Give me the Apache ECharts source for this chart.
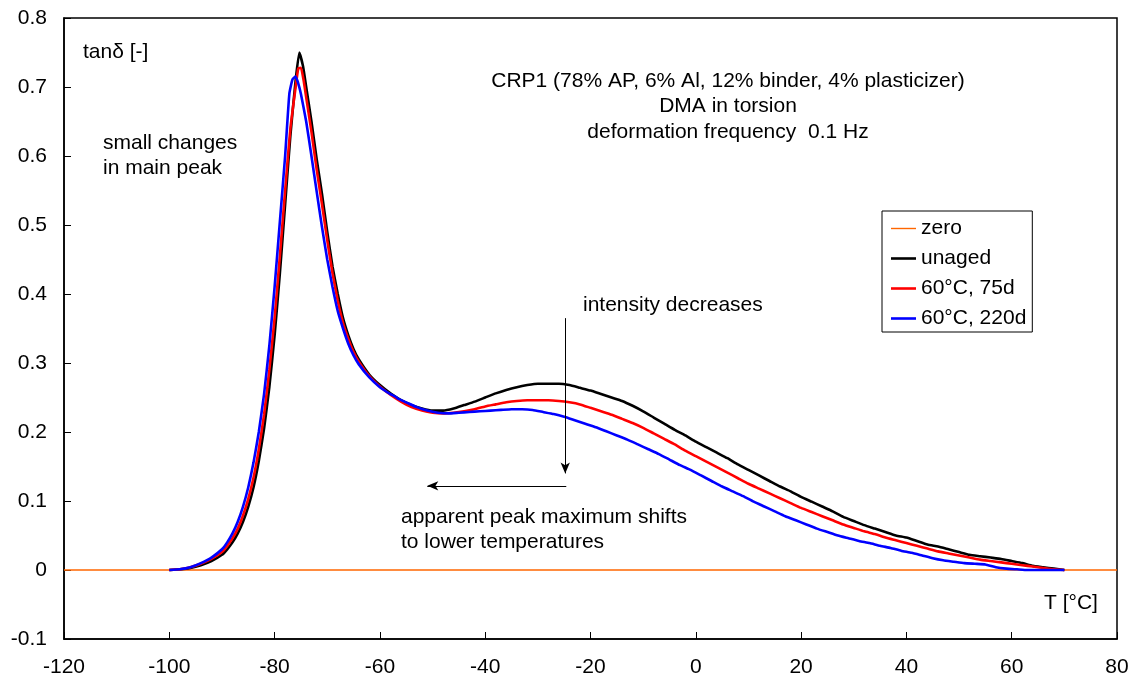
<!DOCTYPE html>
<html>
<head>
<meta charset="utf-8">
<script src="https://cdn.jsdelivr.net/npm/echarts@6/dist/echarts.min.js"></script>
<style>html,body{margin:0;padding:0;background:#fff}#c{width:1136px;height:682px}</style>
</head>
<body>
<div id="c"></div>
<script>
// Temperature T [°C] and tanδ values
const seriesNames = ['zero', 'unaged', '60°C, 75d', '60°C, 220d'];
const xTicks = [-120, -100, -80, -60, -40, -20, 0, 20, 40, 60, 80];
const yTicks = [-0.1, 0, 0.1, 0.2, 0.3, 0.4, 0.5, 0.6, 0.7, 0.8];
const yTickLabels = ['-0.1', '0', '0.1', '0.2', '0.3', '0.4', '0.5', '0.6', '0.7', '0.8'];

const zeroLine = [[-120, 0], [80, 0]];

const unaged = [
  [-100,0],[-98,0.001],[-96,0.003],[-94,0.007],[-92,0.013],[-90,0.022],[-89,0.03],[-88,0.04],
  [-87,0.053],[-86,0.07],[-85,0.092],[-84,0.12],[-83,0.158],[-82,0.205],[-81,0.265],[-80,0.34],
  [-79,0.43],[-78,0.53],[-77,0.63],[-76,0.71],[-75.3,0.75],[-74.6,0.73],[-74,0.70],[-73,0.65],
  [-72,0.595],[-71,0.545],[-70,0.49],[-69,0.44],[-68,0.40],[-67,0.365],[-66,0.34],[-65,0.32],
  [-64,0.305],[-62,0.283],[-60,0.268],[-58,0.256],[-56,0.246],[-54,0.239],[-52,0.234],[-50,0.231],
  [-48,0.231],[-46,0.234],[-44,0.239],[-42,0.244],[-40,0.25],[-38,0.256],[-36,0.261],[-34,0.265],
  [-32,0.268],[-30,0.27],[-28,0.27],[-26,0.27],[-24,0.268],[-22,0.264],[-20,0.26],[-18,0.255],
  [-16,0.25],[-14,0.245],[-12,0.238],[-10,0.23],[-8,0.221],[-6,0.212],[-4,0.203],[-2,0.195],
  [0,0.186],[2,0.178],[4,0.17],[6,0.162],[8,0.153],[10,0.145],[12,0.137],[14,0.129],[16,0.121],
  [18,0.114],[20,0.106],[22,0.099],[24,0.092],[26,0.085],[28,0.077],[30,0.071],[32,0.065],
  [34,0.06],[36,0.055],[38,0.05],[40,0.047],[42,0.042],[44,0.037],[46,0.034],[48,0.03],[50,0.026],
  [52,0.022],[54,0.02],[56,0.018],[58,0.016],[60,0.013],[62,0.01],[64,0.006],[66,0.004],[68,0.002],[70,0]
];

const aged75 = [
  [-100,0],[-98,0.001],[-96,0.004],[-94,0.009],[-92,0.016],[-90,0.026],[-89,0.035],[-88,0.046],
  [-87,0.06],[-86,0.079],[-85,0.103],[-84,0.134],[-83,0.175],[-82,0.225],[-81,0.29],[-80,0.365],
  [-79,0.455],[-78,0.55],[-77,0.64],[-76,0.70],[-75.5,0.727],[-75,0.728],[-74.5,0.71],[-74,0.685],
  [-73,0.635],[-72,0.58],[-71,0.53],[-70,0.478],[-69,0.43],[-68,0.39],[-67,0.358],[-66,0.335],
  [-65,0.316],[-64,0.302],[-62,0.281],[-60,0.266],[-58,0.254],[-56,0.244],[-54,0.236],[-52,0.231],
  [-50,0.228],[-48,0.227],[-46,0.228],[-44,0.23],[-42,0.233],[-40,0.237],[-38,0.24],[-36,0.243],
  [-34,0.245],[-32,0.246],[-30,0.246],[-28,0.246],[-26,0.245],[-24,0.243],[-22,0.24],[-20,0.235],
  [-18,0.23],[-16,0.225],[-14,0.219],[-12,0.213],[-10,0.206],[-8,0.198],[-6,0.19],[-4,0.182],
  [-2,0.173],[0,0.165],[2,0.157],[4,0.149],[6,0.141],[8,0.133],[10,0.125],[12,0.118],[14,0.111],
  [16,0.104],[18,0.097],[20,0.09],[22,0.084],[24,0.078],[26,0.072],[28,0.066],[30,0.061],[32,0.056],
  [34,0.052],[36,0.047],[38,0.043],[40,0.039],[42,0.035],[44,0.031],[46,0.027],[48,0.024],[50,0.021],
  [52,0.018],[54,0.015],[56,0.013],[58,0.011],[60,0.009],[62,0.007],[64,0.005],[66,0.003],[68,0.001],[70,0]
];

const aged220 = [
  [-100,0],[-98,0.001],[-96,0.004],[-94,0.01],[-92,0.018],[-90,0.03],[-89,0.04],[-88,0.053],
  [-87,0.07],[-86,0.092],[-85,0.12],[-84,0.156],[-83,0.2],[-82,0.255],[-81,0.325],[-80,0.41],
  [-79,0.505],[-78,0.6],[-77.2,0.69],[-76.6,0.711],[-76,0.715],[-75.5,0.705],[-75,0.69],[-74,0.65],
  [-73,0.60],[-72,0.548],[-71,0.497],[-70,0.45],[-69,0.41],[-68,0.375],[-67,0.35],[-66,0.328],
  [-65,0.311],[-64,0.298],[-62,0.279],[-60,0.265],[-58,0.255],[-57.2,0.252],[-56.5,0.248],[-55,0.243],
  [-53,0.236],[-51,0.231],[-49,0.228],[-47,0.227],[-45,0.228],[-43,0.229],[-41,0.23],[-39,0.231],
  [-37,0.232],[-35,0.233],[-33,0.233],[-31,0.232],[-29,0.229],[-27,0.226],[-25,0.222],[-23,0.217],
  [-21,0.212],[-19,0.207],[-17,0.201],[-15,0.195],[-13,0.189],[-11,0.182],[-9,0.175],[-7,0.168],
  [-5,0.16],[-3,0.152],[-1,0.145],[1,0.137],[3,0.129],[5,0.121],[7,0.114],[9,0.107],[11,0.099],
  [13,0.092],[15,0.085],[17,0.078],[19,0.072],[21,0.066],[23,0.06],[25,0.055],[27,0.05],[29,0.046],
  [31,0.042],[33,0.039],[35,0.035],[37,0.032],[39,0.028],[41,0.025],[43,0.021],[45,0.017],[47,0.014],
  [49,0.012],[51,0.01],[53,0.009],[55,0.008],[57,0.004],[59,0.002],[61,0.001],[63,0],[70,0]
];

// annotation arrows (data coordinates)
const arrowDown = [[-24.8, 0.365], [-24.8, 0.14]];
const arrowLeft = [[-24.6, 0.122], [-51, 0.122]];

const FONT = '"Liberation Sans", Arial, sans-serif';
const FS = 21;
const chart = echarts.init(document.getElementById('c'));

function txt(x, y, text, align) {
  return {
    type: 'text', x: x, y: y, z: 100,
    style: { text: text, fill: '#000', fontSize: FS, fontFamily: FONT,
             textAlign: align || 'left', textVerticalAlign: 'middle' }
  };
}

function lineSeries(name, data, color, width) {
  return {
    name: name, type: 'line', data: data, symbol: 'none', showSymbol: false,
    smooth: 0.15, animation: false,
    lineStyle: { color: color, width: width }, itemStyle: { color: color }
  };
}

const arrowStyle = { color: '#000', width: 1, type: 'solid' };
const thickIcon = 'path://M0,0H25V2.6H0Z';
const thinIcon = 'path://M0,0H25V1.4H0Z';

const option = {
  backgroundColor: '#fff',
  animation: false,
  textStyle: { fontFamily: FONT },
  grid: { left: 64, right: 19, top: 18, bottom: 43, show: true, borderColor: '#000', borderWidth: 1.5, backgroundColor: 'transparent' },
  xAxis: {
    type: 'value', min: xTicks[0], max: xTicks[xTicks.length - 1], interval: 20,
    axisLine: { onZero: false, lineStyle: { color: '#000', width: 1.5 } },
    axisTick: { inside: true, length: 7, lineStyle: { color: '#000', width: 1 } },
    axisLabel: { color: '#000', fontSize: FS, fontFamily: FONT, margin: 18 },
    splitLine: { show: false }
  },
  yAxis: {
    type: 'value', min: yTicks[0], max: yTicks[yTicks.length - 1], interval: 0.1,
    axisLine: { onZero: false, lineStyle: { color: '#000', width: 1.5 } },
    axisTick: { inside: true, length: 7, lineStyle: { color: '#000', width: 1 } },
    axisLabel: {
      color: '#000', fontSize: FS, fontFamily: FONT, margin: 17,
      formatter: function (v) {
        let best = 0, bd = Infinity;
        yTicks.forEach(function (t, i) { const d = Math.abs(t - v); if (d < bd) { bd = d; best = i; } });
        return yTickLabels[best];
      }
    },
    splitLine: { show: false }
  },
  legend: {
    orient: 'vertical', left: 882, top: 211,
    data: [
      { name: seriesNames[0], icon: thinIcon },
      { name: seriesNames[1], icon: thickIcon },
      { name: seriesNames[2], icon: thickIcon },
      { name: seriesNames[3], icon: thickIcon }
    ],
    symbolKeepAspect: true,
    backgroundColor: '#fff', borderColor: '#000', borderWidth: 1,
    padding: [7, 6, 3, 9],
    itemWidth: 25, itemHeight: 3, itemGap: 9, itemTextGap: 4,
    textStyle: { color: '#000', fontSize: FS, fontFamily: FONT, lineHeight: 21 },
    selectedMode: false
  },
  series: [
    lineSeries(seriesNames[0], zeroLine, '#ff6600', 1.5),
    lineSeries(seriesNames[1], unaged, '#000000', 2.6),
    lineSeries(seriesNames[2], aged75, '#ff0000', 2.6),
    Object.assign(lineSeries(seriesNames[3], aged220, '#0000ff', 2.6), {
      markLine: {
        silent: true, animation: false, symbolSize: [7, 11], label: { show: false },
        lineStyle: arrowStyle,
        data: [
          [{ coord: arrowDown[0], symbol: 'none', lineStyle: arrowStyle }, { coord: arrowDown[1], symbol: 'arrow' }],
          [{ coord: arrowLeft[0], symbol: 'none', lineStyle: arrowStyle }, { coord: arrowLeft[1], symbol: 'arrow' }]
        ]
      }
    })
  ],
  graphic: [
    txt(83, 52, 'tanδ [-]'),
    txt(103, 143, 'small changes'),
    txt(103, 168, 'in main peak'),
    txt(728, 81, 'CRP1 (78% AP, 6% Al, 12% binder, 4% plasticizer)', 'center'),
    txt(728, 106.5, 'DMA in torsion', 'center'),
    txt(728, 132, 'deformation frequency  0.1 Hz', 'center'),
    txt(583, 305, 'intensity decreases'),
    txt(401, 517, 'apparent peak maximum shifts'),
    txt(401, 542, 'to lower temperatures'),
    txt(1044, 603, 'T [°C]')
  ]
};
chart.setOption(option);
</script>
</body>
</html>
